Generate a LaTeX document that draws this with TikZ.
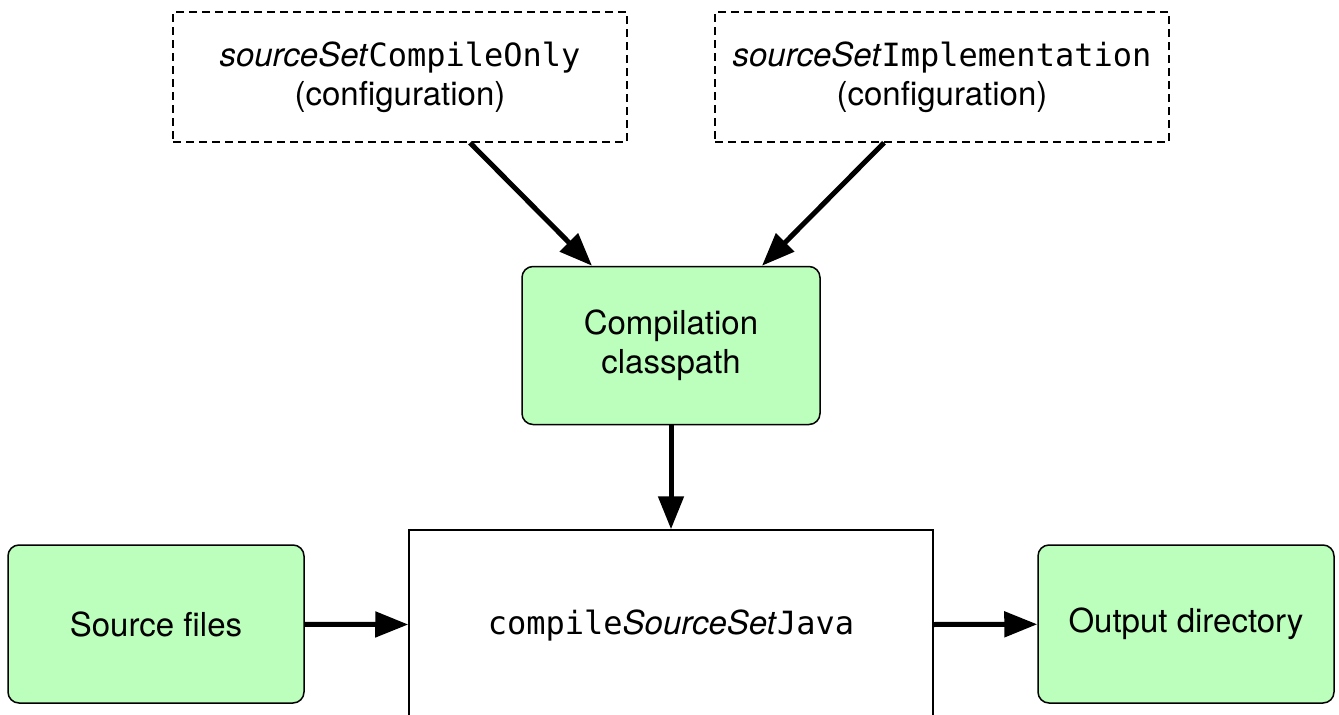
\documentclass[tikz,border=0pt]{standalone}
\usepackage{fontspec}
\setmainfont{TeX Gyre Heros}
\setmonofont{DejaVu Sans Mono}
\usepackage{tikz}
\usetikzlibrary{arrows.meta}
\definecolor{boxgreen}{HTML}{BCFEBC}
\newcommand{\codetext}[1]{{\fontsize{32}{39}\selectfont\ttfamily #1}}

\begin{document}
\begin{tikzpicture}[x=1pt, y=-1pt,
    conf/.style = {draw, dashed, dash pattern=on 8pt off 5pt, line width=1.5pt, minimum width=454pt, minimum height=130pt, align=center},
    file/.style = {draw, line width=1.5pt, fill=boxgreen, rounded corners=11pt, minimum width=296pt, minimum height=158pt, align=center},
    task/.style = {draw, line width=1.5pt, minimum width=524pt, minimum height=190pt},
    flow/.style = {line width=5pt, -{Triangle[length=33pt, width=25pt]}},
    font=\fontsize{33}{39}\selectfont]
        \useasboundingbox (0,0) rectangle (1339,715);
        \node[conf] (compileonly) at (400,77) {\textit{sourceSet}\codetext{CompileOnly}\\(configuration)};
        \node[conf] (impl) at (942,77) {\textit{sourceSet}\codetext{Implementation}\\(configuration)};
        \node[file, minimum width=298pt] (cp) at (671,345.5) {Compilation\\classpath};
        \node[task] (compile) at (671,625) {\codetext{compile}\textit{SourceSet}\codetext{Java}};
        \node[file] (src) at (156,624) {Source files};
        \node[file] (out) at (1186,624) {Output directory};
        \draw[flow] ([xshift=70pt]compileonly.south) -- ([xshift=-79pt]cp.north);
        \draw[flow] ([xshift=-58pt]impl.south) -- ([xshift=91pt]cp.north);
        \draw[flow] (cp) -- (compile);
        \draw[flow] (src) -- (compile);
        \draw[flow] (compile) -- (out);
      \end{tikzpicture}
\end{document}
